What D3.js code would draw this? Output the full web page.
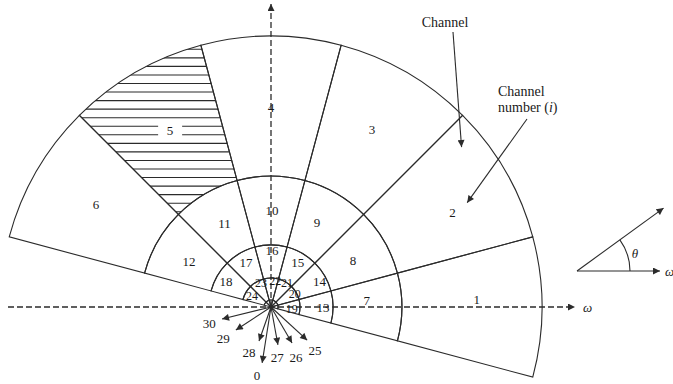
<!DOCTYPE html>
<html>
<head>
<meta charset="utf-8">
<script src="https://cdn.jsdelivr.net/npm/d3@7"></script>
<style>
  html, body { margin: 0; padding: 0; background: #fff; }
  svg { display: block; }
  text { font-family: "Liberation Serif", "DejaVu Serif", serif; fill: #1a1a1a; }
</style>
</head>
<body>
<svg id="chart" width="673" height="384"></svg>
<script>
// Angular edges of the six channel sectors (degrees, counter-clockwise from the ω axis)
const sectorEdges = [-15, 15, 45, 75, 105, 135, 165];
// Ring boundaries as fractions of the outer radius (innermost ring first)
const ringEdges = [0, 0.026, 0.107, 0.229, 0.483, 1.0];
// Channel numbers for each ring, outermost ring first
const outerRing = [1, 2, 3, 4, 5, 6];
const secondRing = [7, 8, 9, 10, 11, 12];
const thirdRing = [13, 14, 15, 16, 17, 18];
const fourthRing = [19, 20, 21, 22, 23, 24];
const innerRing = [25, 26, 27, 28, 29, 30];
const hatchedChannel = 5;

// Label placement (polar) for channels 1..24
const labelChannel = [1, 2, 3, 4, 5, 6, 7, 8, 9, 10, 11, 12, 13, 14, 15, 16, 17, 18, 19, 20, 21, 22, 23, 24];
const labelAngle = [2, 27.6, 60.3, 90, 119.8, 149.5, 4, 29.8, 61.3, 89.4, 119, 150.7, 0, 28, 59, 89, 119, 150, -5, 29, 57, 81, 112, 150];
const labelRadius = [0.76, 0.756, 0.753, 0.738, 0.749, 0.749, 0.354, 0.349, 0.354, 0.358, 0.354, 0.347, 0.192, 0.203, 0.192, 0.207, 0.19, 0.192, 0.077, 0.1, 0.108, 0.098, 0.098, 0.081];

// Innermost channels (and channel 0) are called out with arrows
const arrowChannel = [25, 26, 27, 28, 29, 30, 0];
const arrowAngle = [-42.5, -59.7, -79.6, -109.4, -146.7, -166.2, -99];
const arrowLength = [0.181, 0.154, 0.142, 0.133, 0.155, 0.186, 0.209];
const arrowLabelAngle = [-45, -63.4, -83, -115.6, -147, -164.7, -101.6];
const arrowLabelRadius = [0.229, 0.207, 0.186, 0.188, 0.21, 0.236, 0.256];

const W = 673, H = 384;
const cx = 271, cy = 307;
const ink = "#2b2b2b";

const svg = d3.select("#chart");
const r = d3.scaleLinear().domain([0, 1]).range([0, 271]);
const rad = d3.scaleLinear().domain([0, 180]).range([0, Math.PI]);

// math angle (ccw from +x) -> screen point
const polar = (deg, frac) => [cx + r(frac) * Math.cos(rad(deg)), cy - r(frac) * Math.sin(rad(deg))];

const defs = svg.append("defs");
defs.append("marker")
  .attr("id", "head")
  .attr("viewBox", "0 0 10 10")
  .attr("refX", 10).attr("refY", 5)
  .attr("markerWidth", 8).attr("markerHeight", 7)
  .attr("markerUnits", "userSpaceOnUse")
  .attr("orient", "auto")
  .append("path").attr("d", "M0,0 L10,5 L0,10 Z").attr("fill", ink);

const arc = d3.arc();
const rings = [innerRing, fourthRing, thirdRing, secondRing, outerRing];
const cells = [];
rings.forEach((ids, ri) => {
  ids.forEach((id, si) => {
    cells.push({
      id,
      innerRadius: r(ringEdges[ri]),
      outerRadius: r(ringEdges[ri + 1]),
      // d3.arc measures clockwise from 12 o'clock
      startAngle: rad(90 - sectorEdges[si + 1]),
      endAngle: rad(90 - sectorEdges[si])
    });
  });
});

const g = svg.append("g").attr("transform", `translate(${cx},${cy})`);

// hatched channel
const hatchCell = cells.find(c => c.id === hatchedChannel);
defs.append("clipPath").attr("id", "hatchClip")
  .append("path").attr("d", arc(hatchCell));
const hatch = g.append("g").attr("clip-path", "url(#hatchClip)");
hatch.selectAll("line")
  .data(d3.range(-257.7, -90, 8.55))
  .join("line")
  .attr("x1", -r(1)).attr("x2", 0)
  .attr("y1", d => d).attr("y2", d => d)
  .attr("stroke", ink).attr("stroke-width", 1.1);

// channel cells
g.selectAll("path.cell")
  .data(cells)
  .join("path")
  .attr("class", "cell")
  .attr("d", arc)
  .attr("fill", "none")
  .attr("stroke", ink)
  .attr("stroke-width", 1.1);

// dashed frequency axes
svg.append("line")
  .attr("x1", 8).attr("y1", cy).attr("x2", 575).attr("y2", cy)
  .attr("stroke", ink).attr("stroke-width", 1.3)
  .attr("stroke-dasharray", "6,3")
  .attr("marker-end", "url(#head)");
svg.append("line")
  .attr("x1", cx).attr("y1", cy).attr("x2", cx).attr("y2", 4)
  .attr("stroke", ink).attr("stroke-width", 1.3)
  .attr("stroke-dasharray", "6,3")
  .attr("marker-end", "url(#head)");
svg.append("text")
  .attr("x", 583).attr("y", cy + 5)
  .attr("font-size", 13).attr("font-style", "italic")
  .text("ω");

// channel labels
const labels = svg.append("g").attr("font-size", 13).attr("text-anchor", "middle");
labelChannel.forEach((id, i) => {
  const [x, y] = polar(labelAngle[i], labelRadius[i]);
  if (id === hatchedChannel) {
    labels.append("rect")
      .attr("x", x - 12).attr("y", y - 6)
      .attr("width", 24).attr("height", 12)
      .attr("fill", "#fff");
  }
  labels.append("text")
    .attr("x", x).attr("y", y).attr("dy", "0.35em")
    .attr("font-size", labelRadius[i] < 0.12 ? 12 : 13)
    .text(id);
});

// innermost channel call-outs
arrowChannel.forEach((id, i) => {
  const [x, y] = polar(arrowAngle[i], arrowLength[i]);
  svg.append("line")
    .attr("x1", cx).attr("y1", cy).attr("x2", x).attr("y2", y)
    .attr("stroke", ink).attr("stroke-width", 1.1)
    .attr("marker-end", "url(#head)");
  const [lx, ly] = polar(arrowLabelAngle[i], arrowLabelRadius[i]);
  labels.append("text")
    .attr("x", lx).attr("y", ly).attr("dy", "0.35em")
    .text(id);
});

// annotations
const note = svg.append("g").attr("font-size", 14);
note.append("text").attr("x", 445).attr("y", 27).attr("text-anchor", "middle").text("Channel");
const tip1 = polar(40, 0.918);
note.append("line")
  .attr("x1", 453).attr("y1", 32).attr("x2", tip1[0]).attr("y2", tip1[1])
  .attr("stroke", ink).attr("stroke-width", 1.1).attr("marker-end", "url(#head)");
note.append("text").attr("x", 498).attr("y", 96).text("Channel");
const t2 = note.append("text").attr("x", 498).attr("y", 112);
t2.append("tspan").text("number (");
t2.append("tspan").attr("font-style", "italic").text("i");
t2.append("tspan").text(")");
const tip2 = polar(28, 0.82);
note.append("line")
  .attr("x1", 527).attr("y1", 119).attr("x2", tip2[0]).attr("y2", tip2[1])
  .attr("stroke", ink).attr("stroke-width", 1.1).attr("marker-end", "url(#head)");

// orientation key: θ measured from the ω axis
const ox = 577, oy = 271, keyAngle = 36, keyLen = 107, arcR = 53;
svg.append("line")
  .attr("x1", ox).attr("y1", oy).attr("x2", ox + 83).attr("y2", oy)
  .attr("stroke", ink).attr("stroke-width", 1.1).attr("marker-end", "url(#head)");
svg.append("line")
  .attr("x1", ox).attr("y1", oy)
  .attr("x2", ox + keyLen * Math.cos(rad(keyAngle)))
  .attr("y2", oy - keyLen * Math.sin(rad(keyAngle)))
  .attr("stroke", ink).attr("stroke-width", 1.1).attr("marker-end", "url(#head)");
svg.append("path")
  .attr("transform", `translate(${ox},${oy})`)
  .attr("d", d3.arc()({ innerRadius: arcR, outerRadius: arcR, startAngle: rad(90 - keyAngle), endAngle: rad(90) }))
  .attr("fill", "none").attr("stroke", ink).attr("stroke-width", 1.1);
svg.append("text").attr("x", 635).attr("y", 258)
  .attr("font-size", 13).attr("font-style", "italic").attr("text-anchor", "middle").text("θ");
svg.append("text").attr("x", 665).attr("y", 276)
  .attr("font-size", 13).attr("font-style", "italic").text("ω");
</script>
</body>
</html>
